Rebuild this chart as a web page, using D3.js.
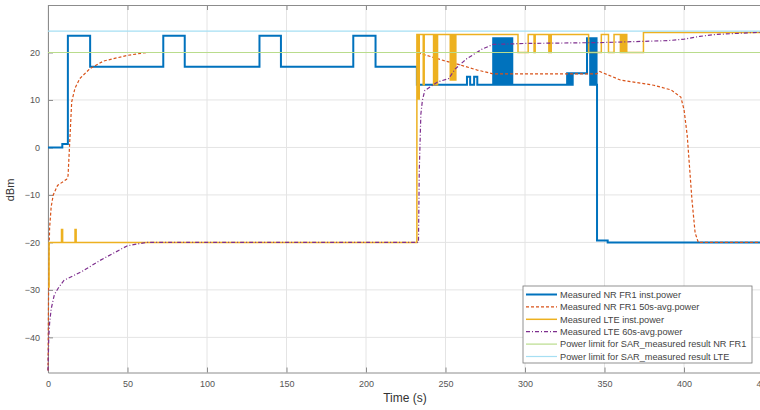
<!DOCTYPE html>
<html>
<head>
<meta charset="utf-8">
<script src="https://cdn.jsdelivr.net/npm/d3@7"></script>
<style>
  body { margin: 0; background: #fff; }
  text { font-family: "Liberation Sans", Arial, sans-serif; }
</style>
</head>
<body>
<div id="chart"></div>
<script>
const width = 760, height = 410;

// tick values
const xTicks = [0, 50, 100, 150, 200, 250, 300, 350, 400, 450];
const yTicks = [-40, -30, -20, -10, 0, 10, 20];

// NR FR1 instantaneous power (step series)
const nrInstT = [0, 9, 12.5, 26.5, 72.5, 86, 133, 146.5, 192, 206, 232, 263.5, 265.5, 268, 270,
	280, 281, 282, 283, 284, 285, 286, 287, 288, 289, 290, 291, 291.5, 292,
	326.5, 327.5, 328.5, 329.5, 330, 339, 341, 341.7, 342.4, 343, 343.7, 344.3, 345, 345.3, 352, 450];
const nrInstV = [0, 0.7, 23.5, 17, 23.5, 17, 23.5, 17, 23.5, 17, 13.2, 14.9, 13.2, 14.9, 13.2,
	23, 13.2, 23, 13.2, 23, 13.2, 23, 13.2, 23, 13.2, 23, 13.2, 23, 13.2,
	15.6, 13.2, 15.6, 13.2, 15.6, 23, 13.2, 23, 13.2, 23, 13.2, 23, 13.2, -19.6, -20, -20];

// NR FR1 50s averaged power
const nrAvgT = [0, 0.5, 1, 2, 3.3, 6, 11.7, 12.6, 13.5, 14.9, 17, 20, 26.4, 35, 50, 62,
	232, 240, 250, 258, 270, 280, 345, 347, 360, 381, 392, 398, 400, 402, 405, 407, 409, 450];
const nrAvgV = [-47, -25, -17, -12.5, -10, -8, -6.7, -6, 0, 9.6, 12.5, 14.5, 16.6, 18.2, 19.4, 20,
	20, 19.2, 18.2, 17.5, 16.3, 15.5, 15.5, 16, 14.2, 13.1, 12.1, 10.6, 8, 2.6, -11, -18, -20, -20];

// LTE instantaneous power (step series)
const lteInstT = [0, 0.7, 8.5, 9.2, 17, 17.7, 232, 232.8, 233.5, 236, 236.6,
	242.5, 243, 243.5, 244, 244.5, 245, 253, 253.5, 254, 254.5, 255, 255.5, 256, 256.5,
	295.6, 302, 305.7, 306.4, 315, 315.5, 316, 316.5, 340, 348, 352.5, 356,
	360, 360.7, 361.4, 362.1, 362.8, 363.5, 364, 374.5, 450];
const lteInstV = [-29.4, -20, -17.3, -20, -17.3, -20, 23.8, 10.2, 23.8, 13.2, 23.8,
	13.2, 23.8, 13.2, 23.8, 13.2, 23.8, 14.2, 23.8, 14.2, 23.8, 14.2, 23.8, 14.2, 23.8,
	20, 23.8, 20, 23.8, 20, 23.8, 20, 23.8, 20, 23.8, 20, 23.8,
	20, 23.8, 20, 23.8, 20, 23.8, 20, 24.2, 24.2];

// LTE 60s averaged power
const lteAvgT = [0, 0.5, 1, 2, 4, 6.3, 10, 22, 32.7, 50, 62, 233, 233.5, 234.5, 235.5, 237,
	245, 252, 256, 263, 273, 280, 300, 350, 390, 400, 410, 420, 450];
const lteAvgV = [-47, -40, -37, -34, -31, -29.7, -28, -26, -23.8, -20.7, -20, -20, -5, 7, 10, 12,
	13.8, 14.5, 16.5, 18.6, 20.7, 21.7, 21.9, 22.1, 22.5, 22.8, 23.4, 23.8, 24.3];

// SAR power limits
const limitNR = 20;
const limitLTE = 24.5;

const legendLabels = [
	"Measured NR FR1 inst.power",
	"Measured NR FR1 50s-avg.power",
	"Measured LTE inst.power",
	"Measured LTE 60s-avg.power",
	"Power limit for SAR_measured result NR FR1",
	"Power limit for SAR_measured result LTE"
];

const styles = [
	{color: "#0072BD", w: 2, dash: null},
	{color: "#D95319", w: 1.2, dash: "3,2"},
	{color: "#EDB120", w: 1.5, dash: null},
	{color: "#7E2F8E", w: 1.2, dash: "4,2,1,2"},
	{color: "#b9dc8c", w: 1.2, dash: null},
	{color: "#a6dff3", w: 1.2, dash: null}
];

const svg = d3.select("#chart")
	.append("svg")
	.attr("width", width)
	.attr("height", height);

const x = d3.scaleLinear().domain([0, 450]).range([48, 763.5]);
const y = d3.scaleLinear().domain([-47.4, 30]).range([372.5, 5]);

// grid
const grid = svg.append("g");
grid.selectAll(".gx").data(xTicks).enter().append("line")
	.attr("x1", d => x(d)).attr("x2", d => x(d))
	.attr("y1", y.range()[1]).attr("y2", y.range()[0])
	.attr("stroke", "#e4e4e4").attr("stroke-width", 1);
grid.selectAll(".gy").data(yTicks).enter().append("line")
	.attr("x1", x.range()[0]).attr("x2", x.range()[1])
	.attr("y1", d => y(d)).attr("y2", d => y(d))
	.attr("stroke", "#e4e4e4").attr("stroke-width", 1);

// axes (inward ticks like matlab)
svg.append("g")
	.attr("transform", `translate(0,${y.range()[0]})`)
	.call(d3.axisBottom(x).tickValues(xTicks).tickSizeInner(-5).tickSizeOuter(0).tickPadding(8))
	.call(g => g.selectAll("text").attr("font-size", 9).attr("fill", "#555"));
svg.append("g")
	.attr("transform", `translate(0,${y.range()[1]})`)
	.call(d3.axisTop(x).tickValues(xTicks).tickSizeInner(-5).tickSizeOuter(0).tickFormat(""));
svg.append("g")
	.attr("transform", `translate(${x.range()[0]},0)`)
	.call(d3.axisLeft(y).tickValues(yTicks).tickSizeInner(-5).tickSizeOuter(0).tickPadding(8))
	.call(g => g.selectAll("text").attr("font-size", 9).attr("fill", "#555"));
svg.selectAll(".domain").attr("stroke", "#8c8c8c");
svg.selectAll(".tick line").attr("stroke", "#8c8c8c");

// plot lines
const plot = svg.append("g");
const stepLine = d3.line().x(d => x(d[0])).y(d => y(d[1])).curve(d3.curveStepAfter);
const avgLine = d3.line().x(d => x(d[0])).y(d => y(d[1]));

const series = [
	{data: d3.zip(nrInstT, nrInstV), gen: stepLine},
	{data: d3.zip(nrAvgT, nrAvgV), gen: avgLine},
	{data: d3.zip(lteInstT, lteInstV), gen: stepLine},
	{data: d3.zip(lteAvgT, lteAvgV), gen: avgLine},
	{data: [[0, limitNR], [450, limitNR]], gen: avgLine},
	{data: [[0, limitLTE], [450, limitLTE]], gen: avgLine}
];

series.forEach((s, i) => {
	plot.append("path")
		.attr("d", s.gen(s.data))
		.attr("fill", "none")
		.attr("stroke", styles[i].color)
		.attr("stroke-width", styles[i].w)
		.attr("stroke-dasharray", styles[i].dash);
});

// axis labels
svg.append("text")
	.attr("x", 405).attr("y", 402)
	.attr("text-anchor", "middle")
	.attr("font-size", 12).attr("fill", "#333")
	.text("Time (s)");
svg.append("text")
	.attr("transform", "translate(14,190) rotate(-90)")
	.attr("text-anchor", "middle")
	.attr("font-size", 11).attr("fill", "#333")
	.text("dBm");

// legend
const legend = svg.append("g");
legend.append("rect")
	.attr("x", 523).attr("y", 286)
	.attr("width", 229).attr("height", 77)
	.attr("fill", "#fff").attr("stroke", "#777").attr("stroke-width", 0.8);
legendLabels.forEach((lab, i) => {
	const ly = 294.5 + i * 12.4;
	legend.append("line")
		.attr("x1", 526).attr("x2", 557)
		.attr("y1", ly).attr("y2", ly)
		.attr("stroke", styles[i].color)
		.attr("stroke-width", styles[i].w)
		.attr("stroke-dasharray", styles[i].dash);
	legend.append("text")
		.attr("x", 560).attr("y", ly)
		.attr("dy", "0.35em")
		.attr("font-size", 9.2).attr("fill", "#444")
		.text(lab);
});
</script>
</body>
</html>
